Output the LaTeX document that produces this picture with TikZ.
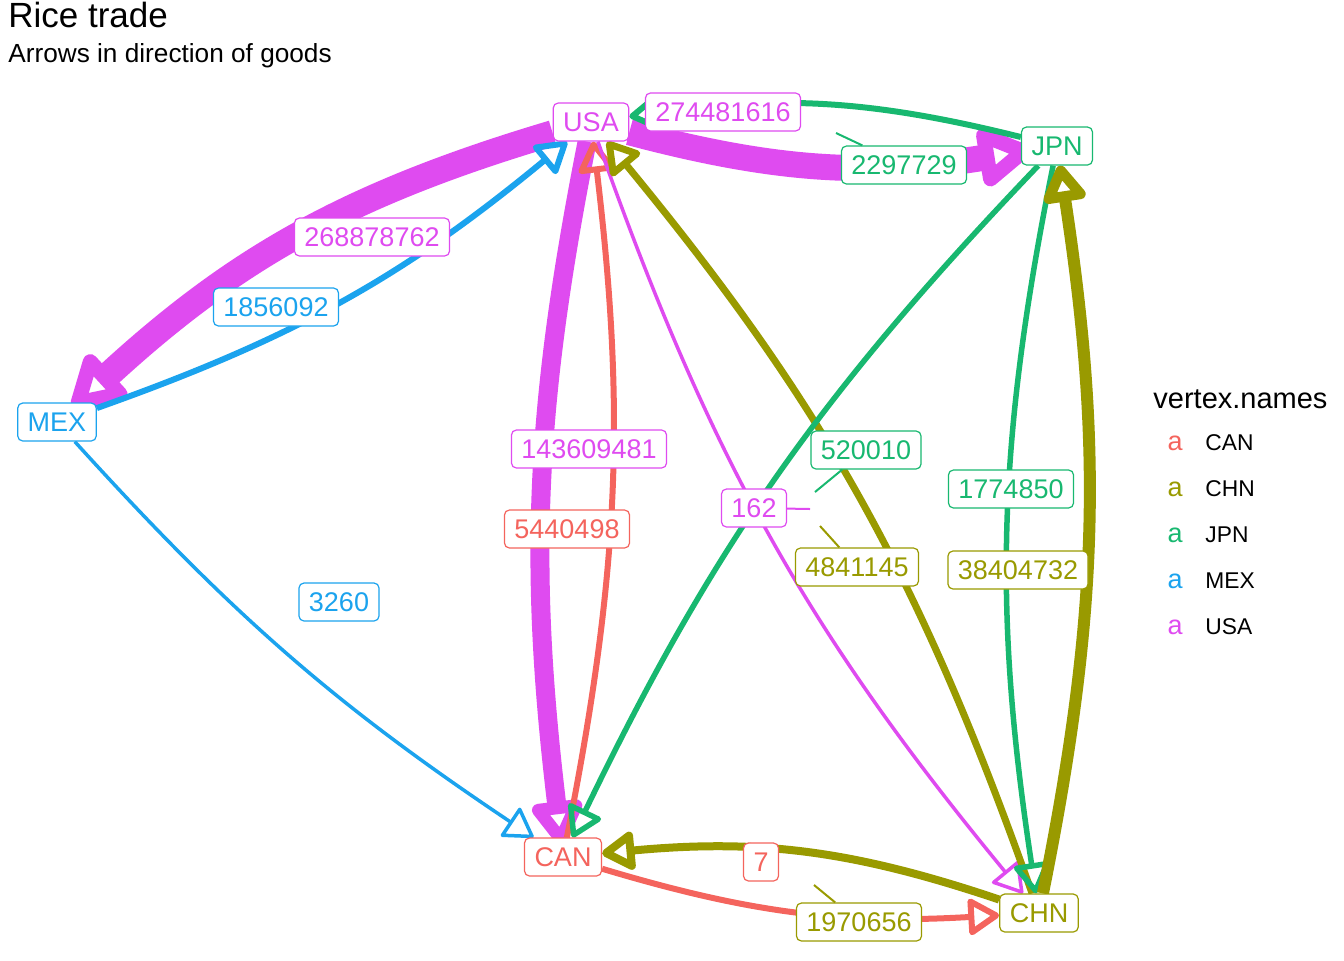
\documentclass[tikz,border=0pt]{standalone}
\usepackage{fontspec}
\setmainfont{Liberation Sans}
\usetikzlibrary{arrows.meta,positioning,backgrounds}
\definecolor{canred}{HTML}{F4645D}
\definecolor{chnolive}{HTML}{999A00}
\definecolor{jpngreen}{HTML}{18B870}
\definecolor{mexblue}{HTML}{1BA3EE}
\definecolor{usapink}{HTML}{DF4BF0}

\begin{document}
\begin{tikzpicture}[
                    x=0.5pt, y=-0.5pt,
                    vtx/.style={rectangle, rounded corners=2.5pt, draw, fill=white, line width=0.6pt, font=\fontsize{13.5}{16}\selectfont, inner xsep=5pt, inner ysep=0pt, minimum height=19pt, text height=9.7pt, text depth=0pt},
                    lbl/.style={vtx},
                    edge/.style={-{Triangle[open, round, length=13pt 1.3 0, width=16pt 1.3 0]}},
                    repel/.style={line width=1pt},
                    plain/.style={inner sep=0pt}
                ]
                    \useasboundingbox (0,0) rectangle (1344,960);

                    \node[plain, anchor=base west, font=\fontsize{17.5}{21}\selectfont] (title) at (8,27) {Rice trade};
                    \node[plain, anchor=base west, font=\fontsize{13.1}{16}\selectfont] (subtitle) at (8,62) {Arrows in direction of goods};

                    \node[vtx, draw=usapink, text=usapink] (usa) at (591,122) {USA};
                    \node[vtx, draw=jpngreen, text=jpngreen] (jpn) at (1057,146) {JPN};
                    \node[vtx, draw=mexblue, text=mexblue] (mex) at (57,422) {MEX};
                    \node[vtx, draw=canred, text=canred] (can) at (563,857) {CAN};
                    \node[vtx, draw=chnolive, text=chnolive] (chn) at (1039,913) {CHN};

                    \begin{scope}[on background layer]
                    \draw[edge, usapink, line width=13pt, shorten >=-4pt] (usa) to[bend right=13] (mex);
                    \draw[edge, mexblue, line width=3pt] (mex) to[bend right=10] (usa);
                    \draw[edge, usapink, line width=13pt, shorten >=-5pt] (usa) to[bend right=12] (jpn);
                    \draw[edge, jpngreen, line width=3pt] (jpn) to[bend right=11] (usa);
                    \draw[edge, usapink, line width=9.5pt, shorten >=-4pt] (usa) to[bend right=9] (can);
                    \draw[edge, canred, line width=3pt] (can) to[bend right=9] (usa);
                    \draw[edge, usapink, line width=1.75pt] (usa) to[bend right=10] (chn);
                    \draw[edge, chnolive, line width=3.5pt] (chn) to[bend right=10] (usa);
                    \draw[edge, jpngreen, line width=2.75pt] (jpn) to[bend right=9] (can);
                    \draw[edge, jpngreen, line width=2.75pt] (jpn) to[bend right=10] (chn);
                    \draw[edge, chnolive, line width=6pt] (chn) to[bend right=10] (jpn);
                    \draw[edge, chnolive, line width=4pt] (chn) to[bend right=12] (can);
                    \draw[edge, canred, line width=3pt] (can) to[bend right=10] (chn);
                    \draw[edge, mexblue, line width=1.75pt] (mex) to[bend right=7] (can);
                    \end{scope}

                    \coordinate (r1) at (836,133);
                    \coordinate (r2) at (810,509);
                    \coordinate (r3) at (815,492);
                    \coordinate (r4) at (820,526);
                    \coordinate (r5) at (814,885);

                    \node[lbl, draw=usapink, text=usapink] (l274481616) at (723,112) {274481616};
                    \node[lbl, draw=jpngreen, text=jpngreen] (l2297729) at (904,165) {2297729};
                    \node[lbl, draw=usapink, text=usapink] (l268878762) at (372,237) {268878762};
                    \node[lbl, draw=mexblue, text=mexblue] (l1856092) at (276,307) {1856092};
                    \node[lbl, draw=usapink, text=usapink] (l143609481) at (589,449) {143609481};
                    \node[lbl, draw=canred, text=canred] (l5440498) at (567,529) {5440498};
                    \node[lbl, draw=usapink, text=usapink] (l162) at (754,508) {162};
                    \node[lbl, draw=jpngreen, text=jpngreen] (l520010) at (866,450) {520010};
                    \node[lbl, draw=chnolive, text=chnolive] (l4841145) at (857,567) {4841145};
                    \node[lbl, draw=jpngreen, text=jpngreen] (l1774850) at (1011,489) {1774850};
                    \node[lbl, draw=chnolive, text=chnolive] (l38404732) at (1018,570) {38404732};
                    \node[lbl, draw=mexblue, text=mexblue] (l3260) at (339,602) {3260};
                    \node[lbl, draw=canred, text=canred] (l7) at (761,862) {7};
                    \node[lbl, draw=chnolive, text=chnolive] (l1970656) at (859,922) {1970656};

                    \draw[repel, jpngreen] (l2297729) -- (r1);
                    \draw[repel, usapink] (l162) -- (r2);
                    \draw[repel, jpngreen] (l520010) -- (r3);
                    \draw[repel, chnolive] (l4841145) -- (r4);
                    \draw[repel, chnolive] (l1970656) -- (r5);

                    \node[plain, anchor=base west, font=\fontsize{14.5}{17}\selectfont] (legtitle) at (1153,408) {vertex.names};
                    \foreach \y/\c/\n in {450/canred/CAN, 496/chnolive/CHN, 542/jpngreen/JPN, 588/mexblue/MEX, 634/usapink/USA} {
                        \node[plain, anchor=base, text=\c, font=\fontsize{13.5}{16}\selectfont] (key\n) at (1175,\y) {a};
                        \node[plain, anchor=base west, font=\fontsize{11.4}{14}\selectfont] (leg\n) at (1205,\y) {\n};
                    }
                \end{tikzpicture}
\end{document}
